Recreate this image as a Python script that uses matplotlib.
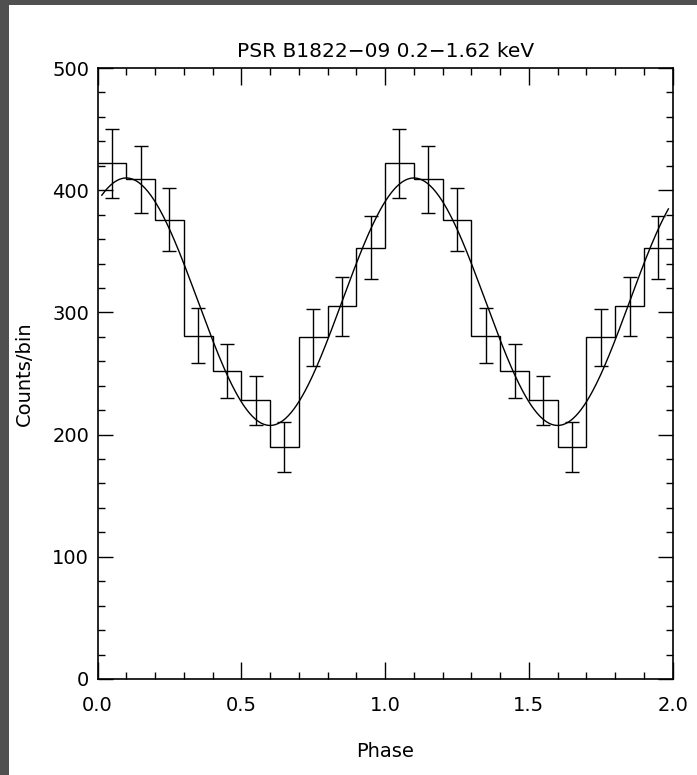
import numpy as np
import matplotlib
matplotlib.use("Agg")
import matplotlib.pyplot as plt
from matplotlib.patches import Rectangle
from matplotlib.ticker import MultipleLocator, FormatStrFormatter

# ---- data ----
# counts per phase bin for one cycle (10 bins of width 0.1), shown twice
cycle_counts = [422, 409, 376, 281, 252, 228, 190, 279.5, 305, 353]
cycle_errors = [28, 27.5, 25.5, 22.7, 22.3, 20.3, 20.2, 23.5, 24, 25.5]
n_cycles = 2
bins_per_cycle = 10

# fitted sinusoid model parameters
fit_mean = 308.75
fit_amplitude = 101.25
fit_peak_phase = 0.10
fit_phase_range = (0.015, 1.985)

title = "PSR B1822\u221209 0.2\u22121.62 keV"
xlabel = "Phase"
ylabel = "Counts/bin"

# ---- derived arrays ----
counts = np.array(cycle_counts * n_cycles)
errors = np.array(cycle_errors * n_cycles)
nb = bins_per_cycle * n_cycles
edges = np.linspace(0.0, float(n_cycles), nb + 1)
centers = 0.5 * (edges[:-1] + edges[1:])

phi = np.linspace(fit_phase_range[0], fit_phase_range[1], 600)
model = fit_mean + fit_amplitude * np.cos(2 * np.pi * (phi - fit_peak_phase))

# ---- figure ----
W, H = 697, 775
fig = plt.figure(figsize=(W / 100, H / 100), dpi=100)
fig.patch.set_facecolor("white")
border = "#505050"
fig.patches.append(Rectangle((0, 0), 9 / W, 1, transform=fig.transFigure,
                             facecolor=border, edgecolor="none", zorder=0))
fig.patches.append(Rectangle((0, 1 - 5 / H), 1, 5 / H, transform=fig.transFigure,
                             facecolor=border, edgecolor="none", zorder=0))

left, right, top, bottom = 97.5, 672.7, 68, 679
ax = fig.add_axes([left / W, 1 - bottom / H, (right - left) / W, (bottom - top) / H])

lw = 1.0
ax.stairs(counts, edges, color="black", linewidth=lw, baseline=None)
ax.errorbar(centers, counts, yerr=errors, fmt="none", ecolor="black",
            elinewidth=lw, capsize=5, capthick=lw)
ax.plot(phi, model, color="black", linewidth=lw)

ax.set_xlim(0, 2)
ax.set_ylim(0, 500)
ax.xaxis.set_major_locator(MultipleLocator(0.5))
ax.xaxis.set_minor_locator(MultipleLocator(0.1))
ax.yaxis.set_major_locator(MultipleLocator(100))
ax.yaxis.set_minor_locator(MultipleLocator(20))
ax.xaxis.set_major_formatter(FormatStrFormatter("%.1f"))

fs = 14
ax.tick_params(which="both", direction="in", top=True, right=True,
               colors="black", width=1.0, labelsize=fs)
ax.tick_params(axis="x", which="major", length=12, pad=12)
ax.tick_params(axis="x", which="minor", length=5)
ax.tick_params(axis="y", which="major", length=11, pad=6)
ax.tick_params(axis="y", which="minor", length=5)
for s in ax.spines.values():
    s.set_linewidth(1.2)

ax.set_title(title, fontsize=14.5, pad=8)
ax.set_xlabel(xlabel, fontsize=fs, labelpad=20)
ax.set_ylabel(ylabel, fontsize=fs, labelpad=13)

fig.savefig("out.png", dpi=100)
